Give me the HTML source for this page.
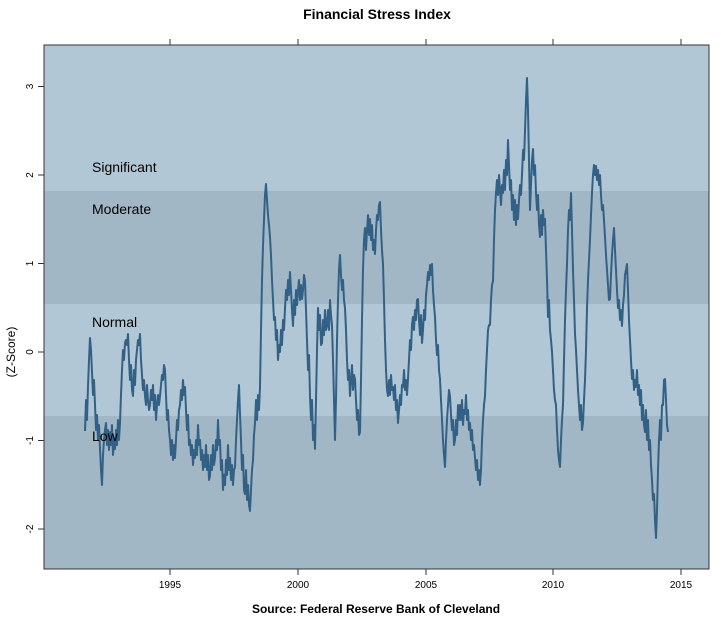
<!DOCTYPE html>
<html><head><meta charset="utf-8"><style>
body{margin:0;background:#fff;}
svg{display:block;font-family:"Liberation Sans",sans-serif;}
</style></head><body>
<svg width="721" height="620" viewBox="0 0 721 620">
<rect x="44" y="45" width="665" height="524" fill="#b2c7d5"/>
<rect x="44" y="191" width="665" height="113" fill="#a2b7c6"/>
<rect x="44" y="416" width="665" height="153" fill="#a2b7c6"/>
<polyline fill="none" stroke="#336186" stroke-width="2" stroke-linejoin="round" points="
85,431 86,400 87,420 88,387 89,360 90,338 91,350 92,372 93,395 94,380 95,405 96,430 97,415 98,440 99,425 100,449 101,470 102,485 103,455 104,440 105,430 106,423 107,445 108,430 109,450 110,432 111,445 112,425 113,455 114,440 115,449 116,430 117,445 118,420 119,440 120,423 121,395 122,370 123,350 124,360 125,343 126,340 127,345 128,334 129,360 130,380 131,365 132,390 133,396 134,370 135,385 136,360 137,350 138,340 139,345 140,334 141,360 142,375 143,390 144,380 145,396 146,405 147,385 148,400 149,410 150,405 151,390 152,400 153,385 154,410 155,395 156,420 157,405 158,395 159,405 160,396 161,385 162,375 163,380 164,365 165,370 166,395 167,420 168,410 169,430 170,440 171,455 172,440 173,460 174,445 175,458 176,440 177,420 178,430 179,410 180,405 181,390 182,400 183,380 184,395 185,387 186,410 187,430 188,415 189,445 190,440 191,455 192,445 193,465 194,450 195,458 196,440 197,455 198,425 199,445 200,440 201,460 202,450 203,470 204,455 205,467 206,445 207,470 208,455 209,480 210,476 211,455 212,470 213,445 214,465 215,458 216,440 217,450 218,420 219,445 220,440 221,470 222,460 223,490 224,475 225,485 226,460 227,475 228,445 229,470 230,458 231,480 232,465 233,485 234,470 235,467 236,440 237,420 238,400 239,385 240,414 241,440 242,470 243,455 244,490 245,494 246,470 247,500 248,485 249,505 250,511 251,490 252,470 253,460 254,435 255,423 256,400 257,420 258,395 259,410 260,387 261,330 262,280 263,246 264,220 265,195 266,184 267,200 268,215 269,225 270,237 271,255 272,280 273,300 274,320 275,317 276,340 277,330 278,360 279,345 280,352 281,330 282,345 283,320 284,330 285,308 286,290 287,300 288,280 289,295 290,272 291,290 292,310 293,326 294,300 295,315 296,290 297,305 298,290 299,280 300,300 301,285 302,299 303,290 304,275 305,281 306,310 307,340 308,370 309,355 310,396 311,420 312,400 313,440 314,425 315,449 316,400 317,350 318,308 319,330 320,315 321,345 322,343 323,320 324,335 325,310 326,330 327,326 328,310 329,330 330,300 331,315 332,326 333,360 334,400 335,440 336,400 337,340 338,300 339,270 340,255 341,275 342,290 343,280 344,300 345,308 346,330 347,360 348,380 349,370 350,396 351,380 352,365 353,390 354,375 355,379 356,400 357,420 358,410 359,435 360,432 361,380 362,320 363,270 364,240 365,228 366,250 367,230 368,215 369,235 370,219 371,240 372,225 373,250 374,240 375,254 376,230 377,215 378,220 379,205 380,202 381,230 382,250 383,264 384,300 385,340 386,370 387,390 388,396 389,380 390,395 391,375 392,390 393,387 394,400 395,385 396,410 397,400 398,423 399,410 400,395 401,405 402,385 403,387 404,370 405,390 406,380 407,395 408,379 409,360 410,340 411,350 412,325 413,317 414,330 415,310 416,320 417,300 418,299 419,320 420,335 421,315 422,343 423,330 424,310 425,320 426,295 427,285 428,272 429,280 430,265 431,275 432,264 433,290 434,305 435,317 436,340 437,355 438,345 439,370 440,379 441,400 442,420 443,440 444,455 445,467 446,440 447,420 448,405 449,390 450,396 451,415 452,430 453,420 454,445 455,440 456,420 457,435 458,405 459,420 460,405 461,420 462,400 463,425 464,410 465,414 466,395 467,420 468,410 469,430 470,423 471,440 472,430 473,450 474,445 475,458 476,470 477,460 478,480 479,470 480,485 481,470 482,440 483,420 484,405 485,396 486,370 487,350 488,330 489,325 490,325 491,300 492,285 493,281 494,240 495,210 496,193 497,180 498,195 499,175 500,190 501,205 502,185 503,193 504,170 505,190 506,160 507,175 508,140 509,165 510,190 511,180 512,210 513,195 514,220 515,200 516,225 517,205 518,219 519,200 520,185 521,195 522,175 523,150 524,160 525,131 526,100 527,78 528,110 529,160 530,210 531,185 532,160 533,149 534,175 535,165 536,193 537,210 538,195 539,225 540,237 541,215 542,235 543,210 544,225 545,219 546,250 547,280 548,317 549,300 550,330 551,340 552,352 553,370 554,390 555,400 556,405 557,430 558,450 559,460 560,467 561,440 562,420 563,405 564,360 565,320 566,290 567,264 568,230 569,210 570,220 571,193 572,230 573,270 574,300 575,334 576,350 577,370 578,390 579,405 580,420 581,405 582,430 583,423 584,400 585,380 586,350 587,308 588,280 589,260 590,240 591,215 592,193 593,175 594,165 595,175 596,166 597,180 598,170 599,185 600,175 601,195 602,210 603,205 604,220 605,237 606,255 607,270 608,285 609,300 610,299 611,275 612,255 613,240 614,228 615,250 616,270 617,290 618,308 619,300 620,320 621,310 622,326 623,305 624,295 625,275 626,270 627,264 628,290 629,320 630,340 631,360 632,379 633,370 634,390 635,380 636,387 637,370 638,395 639,385 640,405 641,390 642,420 643,405 644,425 645,432 646,410 647,440 648,420 649,450 650,440 651,465 652,480 653,500 654,494 655,520 656,538 657,510 658,470 659,440 660,420 661,440 662,405 663,405 664,380 665,379 666,400 667,425 668,432"/>
<rect x="44" y="45" width="665" height="524" fill="none" stroke="#333" stroke-width="1"/>
<g stroke="#333" stroke-width="1">
<line x1="170" y1="569" x2="170" y2="575"/><line x1="298" y1="569" x2="298" y2="575"/><line x1="426" y1="569" x2="426" y2="575"/><line x1="553" y1="569" x2="553" y2="575"/><line x1="681" y1="569" x2="681" y2="575"/>
<line x1="170" y1="45" x2="170" y2="39"/><line x1="298" y1="45" x2="298" y2="39"/><line x1="426" y1="45" x2="426" y2="39"/><line x1="553" y1="45" x2="553" y2="39"/><line x1="681" y1="45" x2="681" y2="39"/>
<line x1="38" y1="86.5" x2="44" y2="86.5"/><line x1="38" y1="175" x2="44" y2="175"/><line x1="38" y1="263.5" x2="44" y2="263.5"/><line x1="38" y1="352" x2="44" y2="352"/><line x1="38" y1="440.5" x2="44" y2="440.5"/><line x1="38" y1="529" x2="44" y2="529"/>
</g>
<g font-size="10" fill="#000" text-anchor="middle">
<text x="170" y="588">1995</text><text x="298" y="588">2000</text><text x="426" y="588">2005</text><text x="553" y="588">2010</text><text x="681" y="588">2015</text>
<text transform="translate(33,86.5) rotate(-90)">3</text>
<text transform="translate(33,175) rotate(-90)">2</text>
<text transform="translate(33,263.5) rotate(-90)">1</text>
<text transform="translate(33,352) rotate(-90)">0</text>
<text transform="translate(33,440.5) rotate(-90)">-1</text>
<text transform="translate(33,529) rotate(-90)">-2</text>
</g>
<text x="15" y="352" font-size="12" text-anchor="middle" transform="rotate(-90,15,352)">(Z-Score)</text>
<text x="377" y="19" font-size="14" font-weight="bold" text-anchor="middle">Financial Stress Index</text>
<text x="376" y="613" font-size="12" font-weight="bold" text-anchor="middle">Source: Federal Reserve Bank of Cleveland</text>
<g font-size="14" fill="#000">
<text x="92" y="172">Significant</text>
<text x="92" y="214">Moderate</text>
<text x="92" y="327">Normal</text>
<text x="92" y="441">Low</text>
</g>
</svg>
</body></html>
